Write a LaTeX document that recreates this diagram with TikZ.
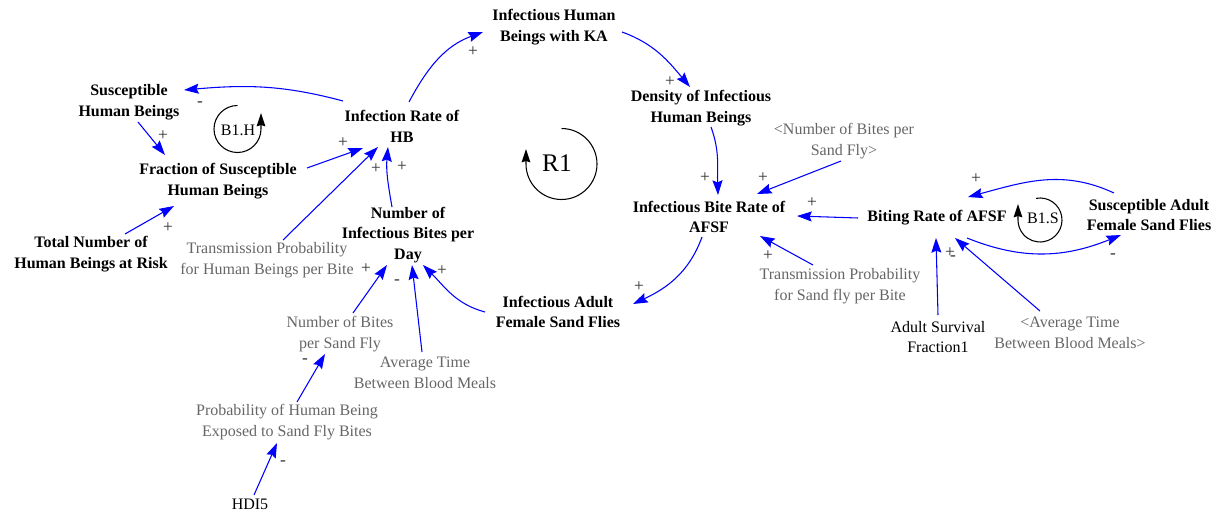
\documentclass[tikz,border=0pt]{standalone}
\usepackage{fontspec}
\setmainfont{Liberation Serif}
\usetikzlibrary{arrows.meta}
\definecolor{vblue}{RGB}{0,0,255}
\definecolor{vgrey}{RGB}{102,102,102}
\definecolor{vsign}{RGB}{50,50,50}
\begin{document}
\begin{tikzpicture}[x=0.75pt,y=0.75pt,
  every node/.style={inner sep=0pt, align=center, font=\fontsize{12}{15.6}\selectfont},
  lvl/.style={font=\fontsize{12}{15.6}\selectfont\bfseries},
  aux/.style={text=vgrey},
  plain/.style={text=black},
  sgn/.style={text=vsign, font=\fontsize{13}{13}\selectfont},
  link/.style={draw=vblue, line width=0.8pt, -{Stealth[length=11pt,width=7.5pt,inset=1.5pt]}},
  loopar/.style={draw=black, line width=0.8pt, -{Stealth[length=10pt,width=6.5pt,inset=1pt]}},
]
\useasboundingbox (0,0) rectangle (1221,-513);

% variables
\node[lvl] (ihb) at (554,-27) {Infectious Human\\Beings with KA};
\node[lvl] (shb) at (129,-102) {Susceptible\\Human Beings};
\node[lvl] (irhb) at (402,-126) {Infection Rate of\\HB};
\node[lvl] (fshb) at (218,-181) {Fraction of Susceptible\\Human Beings};
\node[lvl] (tnhb) at (91,-254) {Total Number of\\Human Beings at Risk};
\node[aux] (tphb) at (267,-260) {Transmission Probability\\for Human Beings per Bite};
\node[lvl] (nibd) at (408,-235) {Number of\\Infectious Bites per\\Day};
\node[lvl] (dihb) at (701,-108) {Density of Infectious\\Human Beings};
\node[aux] (nbsf) at (844,-141) {<Number of Bites per\\Sand Fly>};
\node[lvl] (ibr) at (709,-217) {Infectious Bite Rate of\\AFSF};
\node[lvl] (br) at (937,-218) {Biting Rate of AFSF};
\node[lvl] (sasf) at (1149,-215) {Susceptible Adult\\Female Sand Flies};
\node[aux] (tpsf) at (840,-286) {Transmission Probability\\for Sand fly per Bite};
\node[lvl] (iasf) at (558,-312) {Infectious Adult\\Female Sand Flies};
\node[aux] (nbpsf) at (340,-334) {Number of Bites\\per Sand Fly};
\node[aux] (atbm) at (425,-373) {Average Time\\Between Blood Meals};
\node[plain] (asf) at (938,-337) {Adult Survival\\Fraction1};
\node[aux] (atbm2) at (1070,-333) {<Average Time\\Between Blood Meals>};
\node[aux] (phe) at (287,-422) {Probability of Human Being\\Exposed to Sand Fly Bites};
\node[plain] (hdi) at (250,-504) {HDI5};

% loop markers
\coordinate (b1h) at (237.5,-129);
\node (b1hl) at (238,-130) {B1.H};
\draw[loopar] ([shift={(90:23.5)}]b1h) arc[start angle=90, end angle=360, radius=23.5] -- ++(0,16);
\coordinate (r1) at (561.5,-164);
\node[font=\fontsize{19}{19}\selectfont] (r1l) at (557,-163) {R1};
\draw[loopar] ([shift={(90:35.5)}]r1) arc[start angle=90, end angle=-180, radius=35.5] -- ++(0,15);
\coordinate (b1s) at (1040,-220);
\node (b1sl) at (1043,-218) {B1.S};
\draw[loopar] ([shift={(100:22)}]b1s) arc[start angle=100, end angle=-180, radius=22] -- ++(0,16);

% links
\draw[link] ([shift={(-59,25)}]irhb.center) to[out=165,in=5] ([shift={(55,12)}]shb.center);
\draw[link] ([shift={(9,-20)}]shb.center) -- ([shift={(-53,26)}]fshb.center);
\draw[link] ([shift={(89,13)}]fshb.center) -- ([shift={(-39,-22)}]irhb.center);
\draw[link] ([shift={(34,20)}]tnhb.center) -- ([shift={(-44,-25)}]fshb.center);
\draw[link] ([shift={(16,20)}]tphb.center) -- ([shift={(-24,-21)}]irhb.center);
\draw[link] ([shift={(-16,28)}]nibd.center) to[out=100,in=-95] ([shift={(-14,-21)}]irhb.center);
\draw[link] ([shift={(7,24)}]irhb.center) to[out=62,in=200] ([shift={(-71,-5)}]ihb.center);
\draw[link] ([shift={(68,-5)}]ihb.center) to[out=-20,in=130] ([shift={(-11,21)}]dihb.center);
\draw[link] ([shift={(10,-19)}]dihb.center) to[out=-70,in=92] ([shift={(9,22)}]ibr.center);
\draw[link] ([shift={(-3,-20)}]nbsf.center) -- ([shift={(48,23)}]ibr.center);
\draw[link] ([shift={(-79,0)}]br.center) -- ([shift={(88,1)}]ibr.center);
\draw[link] ([shift={(-27,21)}]tpsf.center) -- ([shift={(51,-19)}]ibr.center);
\draw[link] ([shift={(-7,-20)}]ibr.center) to[out=-110,in=25] ([shift={(75,8)}]iasf.center);
\draw[link] ([shift={(-73,0)}]iasf.center) to[out=165,in=-45] ([shift={(15,-30)}]nibd.center);
\draw[link] ([shift={(13,21)}]nbpsf.center) -- ([shift={(-21,-30)}]nibd.center);
\draw[link] ([shift={(-3,21)}]atbm.center) -- ([shift={(4,-30)}]nibd.center);
\draw[link] ([shift={(10,20)}]phe.center) -- ([shift={(-15,-20)}]nbpsf.center);
\draw[link] ([shift={(4,9)}]hdi.center) -- ([shift={(-10,-21)}]phe.center);
\draw[link] ([shift={(-35,22)}]sasf.center) to[out=155,in=15] ([shift={(31,21)}]br.center);
\draw[link] ([shift={(30,-20)}]br.center) to[out=-22,in=-158] ([shift={(-28,-20)}]sasf.center);
\draw[link] ([shift={(0,22)}]asf.center) -- ([shift={(-1,-20)}]br.center);
\draw[link] ([shift={(-30,22)}]atbm2.center) -- ([shift={(18,-20)}]br.center);

% polarities
\node[sgn] (p1) at (200,-104) {-};
\node[sgn] (p2) at (163,-136) {+};
\node[sgn] (p3) at (343,-143) {+};
\node[sgn] (p4) at (168,-228) {+};
\node[sgn] (p5) at (376,-169) {+};
\node[sgn] (p6) at (402,-167) {+};
\node[sgn] (p7) at (473,-52) {+};
\node[sgn] (p8) at (670,-82) {+};
\node[sgn] (p9) at (705,-178) {+};
\node[sgn] (p10) at (763,-178) {+};
\node[sgn] (p11) at (812,-203) {+};
\node[sgn] (p12) at (768,-256) {+};
\node[sgn] (p13) at (639,-287) {+};
\node[sgn] (p14) at (442,-271) {+};
\node[sgn] (p15) at (366,-269) {+};
\node[sgn] (p16) at (397,-282) {-};
\node[sgn] (p17) at (305,-361) {-};
\node[sgn] (p18) at (283,-463) {-};
\node[sgn] (p19) at (976,-179) {+};
\node[sgn] (p20) at (1113,-256) {-};
\node[sgn] (p21) at (950,-253) {+};
\node[sgn] (p22) at (953,-258) {-};
\end{tikzpicture}
\end{document}
